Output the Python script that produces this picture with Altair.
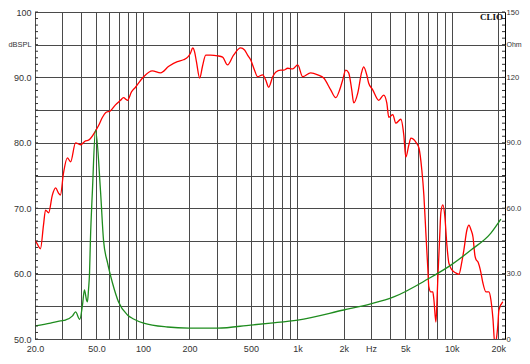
import altair as alt
import pandas as pd

# ---- SPL curve (red, left axis, dB SPL) ----
spl_freq = [20.1, 20.7, 21.7, 22.7, 23.4, 24.5, 25.9, 27.2, 28.4, 29.2, 30.6, 32.4, 34.0, 36.6, 39.4,
            42.5, 44.4, 49.3, 51.5, 54.7, 57.3, 61.7, 66.4, 71.6, 74.8, 79.4, 84.3, 89.5, 101, 115,
            130, 147, 167, 183, 195, 203, 210, 216, 222, 233, 243, 255, 274, 304, 328, 353, 386, 429,
            455, 476, 498, 528, 553, 596, 624, 652, 692, 723, 780, 815, 865, 933, 1005, 1082, 1219,
            1355, 1482, 1644, 1772, 1879, 1965, 2056, 2148, 2249, 2317, 2460, 2608, 2687, 2812, 2897,
            3076, 3365, 3622, 3793, 3908, 4150, 4335, 4677, 4887, 5036, 5272, 5433, 5848, 6124, 6397,
            6592, 6792, 6998, 7097, 7311, 7534, 7656, 7889, 7998, 8110, 8356, 8492, 8750, 9016, 9290,
            9572, 10000, 10617, 11117, 11614, 11967, 12531, 12912, 13305, 13709, 14125, 14322, 14757,
            15417, 15885, 16634, 17378, 17906, 18450, 19011, 19275, 19860, 20184, 21380]
spl_db = [65.1, 64.5, 63.8, 67.4, 69.7, 69.3, 72.0, 73.1, 72.3, 72.0, 75.4, 77.7, 77.1, 80.0, 79.7,
          80.3, 80.4, 81.8, 82.6, 83.9, 84.6, 84.9, 85.8, 86.5, 86.9, 86.5, 87.8, 88.5, 90.1, 91.0,
          90.7, 91.7, 92.4, 92.7, 93.1, 93.7, 94.5, 93.9, 92.4, 89.9, 91.7, 93.4, 93.4, 93.3, 93.1,
          91.9, 93.4, 94.5, 94.2, 93.4, 92.7, 91.1, 90.1, 90.4, 89.6, 88.5, 90.1, 90.8, 91.1, 91.1,
          91.4, 91.3, 91.9, 90.1, 90.7, 90.4, 89.9, 88.1, 86.9, 88.1, 89.6, 91.1, 90.7, 88.1, 86.1,
          87.6, 90.8, 91.6, 90.4, 89.1, 88.1, 86.5, 87.3, 86.1, 83.9, 84.3, 83.0, 83.6, 81.2, 77.8,
          79.7, 80.7, 80.1, 79.2, 75.8, 72.0, 66.2, 60.6, 58.0, 57.2, 57.2, 56.0, 52.6, 55.2, 59.0,
          65.9, 69.3, 70.5, 68.7, 64.4, 61.6, 60.6, 60.1, 59.9, 61.8, 63.6, 66.7, 67.4, 66.7, 65.6,
          62.7, 62.2, 61.8, 60.2, 58.6, 57.2, 57.2, 56.0, 53.2, 49.1, 49.5, 52.1, 54.4, 55.7]

# ---- Impedance curve (green, right axis, Ohm) ----
imp_freq = [20.1, 25.2, 29.2, 31.5, 35.0, 36.6, 39.0, 40.6, 41.8, 43.1, 43.7, 44.4, 45.1, 45.7, 47.1,
            49.3, 53.1, 55.6, 59.0, 63.5, 69.5, 79.4, 86.9, 101, 144, 198, 304, 498, 671, 1005, 1995,
            2985, 4207, 6998, 9863, 13305, 17906, 20780]
imp_ohm = [6.0, 7.3, 8.3, 8.7, 10.6, 12.4, 9.0, 15.6, 22.5, 17.9, 17.0, 22.5, 30.3, 45.4, 68.3,
           95.9, 68.0, 45.0, 34.9, 25.7, 17.0, 11.0, 9.2, 7.3, 5.5, 5.0, 5.0, 6.4, 7.3, 8.7, 13.3,
           16.1, 19.3, 27.5, 33.9, 40.8, 48.6, 55.0]

# ---- axes ----
x_grid = [20, 30, 40, 50, 60, 70, 80, 90, 100, 200, 300, 400, 500, 600, 700, 800, 900,
          1000, 2000, 3000, 4000, 5000, 6000, 7000, 8000, 9000, 10000, 20000]
x_label_vals = [20, 50, 100, 200, 500, 1000, 2000, 3000, 5000, 10000, 20000]
x_label_text = ["20.0", "50.0", "100", "200", "500", "1k", "2k", "Hz", "5k", "10k", "20k"]

left_vals = [50, 55, 60, 65, 70, 75, 80, 85, 90, 95, 100]
left_label_vals = [50, 60, 70, 80, 90, 95, 100]
left_label_text = ["50.0", "60.0", "70.0", "80.0", "90.0", "dBSPL", "100"]

right_vals = [0, 30, 60, 90, 120, 135, 150]
right_label_text = ["0", "30.0", "60.0", "90.0", "120", "Ohm", "150"]

minor_ticks_db = list(range(50, 101))


def label_expr(vals, texts):
    s = ""
    for v, t in zip(vals, texts):
        s += f"datum.value == {v} ? '{t}' : "
    return s + "''"


W, H = 470, 327
FONT = "Liberation Sans"

x_scale = alt.Scale(type="log", domain=[20, 22100], nice=False)
x_axis = alt.Axis(values=x_grid, labelExpr=label_expr(x_label_vals, x_label_text), grid=True,
                  ticks=False, domain=False, title=None, labelPadding=5, labelFontSize=9,
                  labelFont=FONT, labelColor="#333", labelFlush=False, labelOverlap=False)
x_enc = alt.X("f:Q", scale=x_scale, axis=x_axis)

db_scale = alt.Scale(domain=[50, 100], nice=False, zero=False)
ohm_scale = alt.Scale(domain=[0, 150], nice=False, zero=False)

spl_df = pd.DataFrame({"f": spl_freq, "v": spl_db})
imp_df = pd.DataFrame({"f": imp_freq, "v": imp_ohm})
tick_df = pd.DataFrame({"v": minor_ticks_db})

red = alt.Chart(spl_df).mark_line(color="#ff0000", strokeWidth=1.3, clip=True,
                                  interpolate="monotone").encode(
    x=x_enc,
    y=alt.Y("v:Q", scale=db_scale,
            axis=alt.Axis(orient="left", values=left_vals,
                          labelExpr=label_expr(left_label_vals, left_label_text),
                          grid=True, ticks=False, domain=False, title=None, labelPadding=4,
                          labelFontSize={"condition": {"test": "datum.value == 95", "value": 7.4},
                                         "value": 9},
                          labelFont=FONT, labelColor="#333", labelFlush=False,
                          labelOverlap=False)),
)

green = alt.Chart(imp_df).mark_line(color="#1e8c1e", strokeWidth=1.3, clip=True,
                                    interpolate="monotone").encode(
    x=x_enc,
    y=alt.Y("v:Q", scale=ohm_scale,
            axis=alt.Axis(orient="right", values=right_vals,
                          labelExpr=label_expr(right_vals, right_label_text),
                          grid=False, ticks=False, domain=False, title=None, labelPadding=1,
                          labelFontSize={"condition": {"test": "datum.value == 135", "value": 7.0},
                                         "value": 7.6},
                          labelFont=FONT, labelColor="#333",
                          labelFlush=False, labelOverlap=False)),
)

left_ticks = alt.Chart(tick_df).mark_rule(color="#333", strokeWidth=1).encode(
    y=alt.Y("v:Q", scale=db_scale, axis=None),
    x=alt.value(0), x2=alt.value(3),
)
right_ticks = alt.Chart(tick_df).mark_rule(color="#333", strokeWidth=1).encode(
    y=alt.Y("v:Q", scale=db_scale, axis=None),
    x=alt.value(W - 3), x2=alt.value(W),
)

clio = alt.Chart(pd.DataFrame({"t": ["CLIO"]})).mark_text(
    font="Liberation Serif", fontWeight="bold", fontSize=9, align="right",
    baseline="alphabetic", color="#111").encode(
    text="t:N", x=alt.value(W - 2), y=alt.value(8))

chart = alt.layer(red, green, left_ticks, right_ticks, clio).resolve_scale(
    y="independent"
).properties(
    width=W, height=H,
    autosize=alt.AutoSizeParams(type="none"),
    padding={"left": 27, "top": 4, "right": 17, "bottom": 17},
    background="white",
).configure_view(stroke="black", strokeWidth=1).configure_axis(
    gridColor="#4a4a4a", gridOpacity=1, gridWidth=1
)

chart.save("out.html", embed_options={"renderer": "svg", "actions": False})
